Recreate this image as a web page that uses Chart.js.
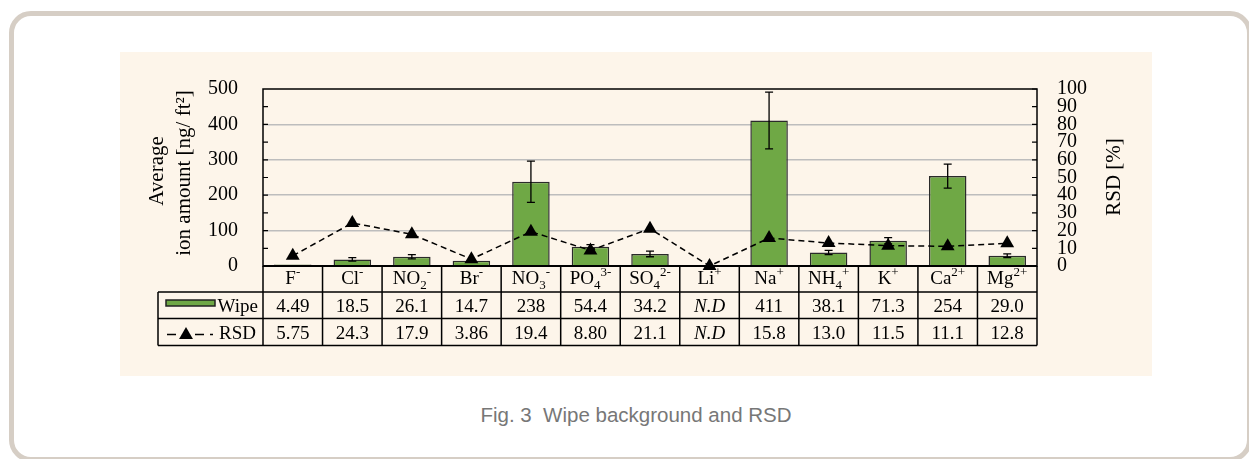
<!DOCTYPE html>
<html>
<head>
<meta charset="utf-8">
<title>Wipe background and RSD</title>
<script src="https://cdn.jsdelivr.net/npm/chart.js@4.4.1/dist/chart.umd.min.js"></script>
<style>
    body { margin: 0; background: #fff; width: 1249px; height: 459px; overflow: hidden; position: relative; }
    #frame {
        position: absolute; left: 9px; top: 11px; width: 1243px; height: 451px;
        box-sizing: border-box; border: 5px solid #d6cec5; border-radius: 22px;
    }
    #panel { position: absolute; left: 120px; top: 52px; width: 1032px; height: 324px; background: #fdf5ea; }
    #caption {
        position: absolute; left: 0; width: 1272px; top: 403px; text-align: center;
        font: 20.5px "Liberation Sans", Arial, sans-serif; color: #777;
    }
</style>
</head>
<body>
<div id="frame"></div>
<div id="panel"><canvas id="wipeChart" width="1032" height="324"></canvas></div>
<div id="caption">Fig. 3&nbsp;&nbsp;Wipe background and RSD</div>

<script>
// Categories (ions) - plain label plus pieces for the rich table label
const categories = ["F⁻", "Cl⁻", "NO₂⁻", "Br⁻", "NO₃⁻", "PO₄³⁻", "SO₄²⁻", "Li⁺", "Na⁺", "NH₄⁺", "K⁺", "Ca²⁺", "Mg²⁺"];
const labelBase = ["F", "Cl", "NO", "Br", "NO", "PO", "SO", "Li", "Na", "NH", "K", "Ca", "Mg"];
const labelSub = ["", "", "2", "", "3", "4", "4", "", "", "4", "", "", ""];
const labelSup = ["-", "-", "-", "-", "-", "3-", "2-", "+", "+", "+", "+", "2+", "2+"];

// Series (null = N.D)
const wipeValues = [4.49, 18.5, 26.1, 14.7, 238, 54.4, 34.2, null, 411, 38.1, 71.3, 254, 29.0];
const wipeErrors = [null, 5, 6, 3, 58, 6, 8, null, 80, 6, 9, 34, 5];
const rsdValues = [5.75, 24.3, 17.9, 3.86, 19.4, 8.80, 21.1, null, 15.8, 13.0, 11.5, 11.1, 12.8];

// Tick labels
const wipeTicks = [0, 100, 200, 300, 400, 500];
const rsdTicks = [0, 10, 20, 30, 40, 50, 60, 70, 80, 90, 100];

const GREEN = "#6fa845";
const SERIF = '"Liberation Serif", "Times New Roman", serif';

// Li+ was not detected; the original plots its RSD marker on zero
const rsdPlotted = rsdValues.map(v => v ?? 0);

function drawTriangle(ctx, x, y, r) {
    ctx.beginPath();
    ctx.moveTo(x, y - r);
    ctx.lineTo(x + r * 0.866, y + r * 0.5);
    ctx.lineTo(x - r * 0.866, y + r * 0.5);
    ctx.closePath();
    ctx.fill();
}

// Draws "NO" + sub "2" + sup "-" centred at x
function drawIonLabel(ctx, i, cx, baseline) {
    const big = "19px " + SERIF, small = "13px " + SERIF;
    ctx.font = big;
    const wBase = ctx.measureText(labelBase[i]).width;
    ctx.font = small;
    const wSub = labelSub[i] ? ctx.measureText(labelSub[i]).width : 0;
    const wSup = ctx.measureText(labelSup[i]).width;
    let x = cx - (wBase + wSub + wSup) / 2;
    ctx.textAlign = "left";
    ctx.textBaseline = "alphabetic";
    ctx.font = big;
    ctx.fillText(labelBase[i], x, baseline);
    x += wBase;
    ctx.font = small;
    if (labelSub[i]) {
        ctx.fillText(labelSub[i], x, baseline + 5);
        x += wSub;
    }
    ctx.fillText(labelSup[i], x, baseline - 8);
}

const wipeTablePlugin = {
    id: "wipeTable",
    // error bars go right after the bars, before the RSD line
    afterDatasetDraw(chart, args) {
        if (args.index !== 1) return;
        const ctx = chart.ctx, xs = chart.scales.x, ys = chart.scales.yWipe;
        ctx.save();
        ctx.strokeStyle = "#000";
        ctx.lineWidth = 1.3;
        wipeValues.forEach((v, i) => {
            const e = wipeErrors[i];
            if (v == null || !e) return;
            const px = xs.getPixelForValue(i);
            const top = ys.getPixelForValue(v + e);
            const bot = ys.getPixelForValue(Math.max(v - e, 0));
            ctx.beginPath();
            ctx.moveTo(px, top); ctx.lineTo(px, bot);
            ctx.moveTo(px - 4, top); ctx.lineTo(px + 4, top);
            ctx.moveTo(px - 4, bot); ctx.lineTo(px + 4, bot);
            ctx.stroke();
        });
        ctx.restore();
    },
    afterDraw(chart) {
        const ctx = chart.ctx;
        const { left, right, top, bottom } = chart.chartArea;
        const xs = chart.scales.x, yw = chart.scales.yWipe, yr = chart.scales.yRsd;
        ctx.save();
        ctx.strokeStyle = "#000";
        ctx.fillStyle = "#000";

        // plot frame and zero line
        ctx.lineWidth = 1.5;
        ctx.strokeRect(left, top, right - left, bottom - top);
        ctx.lineWidth = 2.2;
        ctx.beginPath(); ctx.moveTo(left, bottom); ctx.lineTo(right, bottom); ctx.stroke();

        // inside tick marks
        ctx.lineWidth = 1.2;
        ctx.beginPath();
        for (let v = 50; v < 500; v += 50) {
            const py = yw.getPixelForValue(v);
            ctx.moveTo(left, py); ctx.lineTo(left + 5, py);
        }
        rsdTicks.forEach(v => {
            const py = yr.getPixelForValue(v);
            ctx.moveTo(right, py); ctx.lineTo(right - 5, py);
        });
        ctx.stroke();

        // table under the plot
        const half = (xs.getPixelForValue(1) - xs.getPixelForValue(0)) / 2;
        const rows = [bottom, bottom + 26, bottom + 52.5, bottom + 79.5];
        const legendLeft = 38;
        ctx.lineWidth = 1.5;
        ctx.beginPath();
        ctx.moveTo(left, rows[0]); ctx.lineTo(right, rows[0]);
        for (let r = 1; r < rows.length; r++) {
            ctx.moveTo(legendLeft, rows[r]); ctx.lineTo(right, rows[r]);
        }
        ctx.moveTo(legendLeft, rows[1]); ctx.lineTo(legendLeft, rows[3]);
        for (let i = 0; i <= categories.length; i++) {
            const bx = i < categories.length ? xs.getPixelForValue(i) - half : right;
            ctx.moveTo(bx, rows[0]); ctx.lineTo(bx, rows[3]);
        }
        ctx.stroke();

        categories.forEach((c, i) => {
            const cx = xs.getPixelForValue(i);
            drawIonLabel(ctx, i, cx, rows[0] + 17.5);
            ctx.textAlign = "center";
            ctx.textBaseline = "alphabetic";
            const w = wipeValues[i], s = rsdValues[i];
            ctx.font = (w == null ? "italic " : "") + "19px " + SERIF;
            ctx.fillText(w == null ? "N.D" : w.toPrecision(3), cx, rows[1] + 19.7);
            ctx.font = (s == null ? "italic " : "") + "19px " + SERIF;
            ctx.fillText(s == null ? "N.D" : s.toPrecision(3), cx, rows[2] + 20.5);
        });

        // legend cells
        ctx.fillStyle = GREEN;
        ctx.fillRect(46, rows[1] + 8, 49, 6);
        ctx.strokeStyle = "#222";
        ctx.lineWidth = 1.5;
        ctx.strokeRect(46, rows[1] + 8, 49, 6);
        ctx.strokeStyle = "#000";
        const ly = rows[2] + 16;
        ctx.beginPath();
        ctx.moveTo(47, ly); ctx.lineTo(56, ly);
        ctx.moveTo(75, ly); ctx.lineTo(84, ly);
        ctx.moveTo(90, ly); ctx.lineTo(93, ly);
        ctx.stroke();
        ctx.fillStyle = "#000";
        drawTriangle(ctx, 66, ly + 0.5, 8);
        ctx.font = "19px " + SERIF;
        ctx.textAlign = "right";
        ctx.fillText("Wipe", 138, rows[1] + 19.7);
        ctx.fillText("RSD", 136, rows[2] + 20.5);

        // axis titles
        ctx.font = "21px " + SERIF;
        ctx.textAlign = "center";
        ctx.textBaseline = "middle";
        ctx.save();
        ctx.translate(37, 119); ctx.rotate(-Math.PI / 2);
        ctx.fillText("Average", 0, 0);
        ctx.restore();
        ctx.save();
        ctx.translate(64, 121); ctx.rotate(-Math.PI / 2);
        ctx.fillText("ion amount [ng/ ft²]", 0, 0);
        ctx.restore();
        ctx.save();
        ctx.translate(994, 125); ctx.rotate(-Math.PI / 2);
        ctx.fillText("RSD [%]", 0, 0);
        ctx.restore();

        ctx.restore();
    }
};

const tickFont = { family: SERIF, size: 20 };

new Chart(document.getElementById("wipeChart"), {
    type: "bar",
    data: {
        labels: categories,
        datasets: [
            {
                type: "line",
                label: "RSD",
                data: rsdPlotted,
                yAxisID: "yRsd",
                borderColor: "#000",
                borderWidth: 1.5,
                borderDash: [6, 4],
                pointStyle: "triangle",
                pointRadius: 8,
                pointBackgroundColor: "#000",
                pointBorderColor: "#000",
                pointBorderWidth: 0,
                tension: 0,
                clip: false,
                order: 0
            },
            {
                type: "bar",
                label: "Wipe",
                data: wipeValues,
                yAxisID: "yWipe",
                backgroundColor: GREEN,
                borderColor: "#2a2a2a",
                borderWidth: 1.5,
                barPercentage: 0.63,
                categoryPercentage: 1,
                order: 1
            }
        ]
    },
    options: {
        responsive: false,
        animation: false,
        devicePixelRatio: 1,
        layout: { padding: { top: 34, bottom: 110, left: 0, right: 0 } },
        plugins: {
            legend: { display: false },
            tooltip: { enabled: false }
        },
        scales: {
            x: { display: false, offset: true, grid: { display: false } },
            yWipe: {
                position: "left",
                min: 0,
                max: 500,
                afterBuildTicks: s => { s.ticks = wipeTicks.map(v => ({ value: v })); },
                afterFit: s => { s.width = 143; },
                ticks: { padding: 25, color: "#000", font: tickFont, autoSkip: false },
                grid: {
                    drawTicks: false,
                    lineWidth: 1.5,
                    color: c => (c.tick.value === 0 || c.tick.value === 500) ? "rgba(0,0,0,0)" : "#bdbdbd"
                },
                border: { display: false }
            },
            yRsd: {
                position: "right",
                min: 0,
                max: 100,
                afterBuildTicks: s => { s.ticks = rsdTicks.map(v => ({ value: v })); },
                afterFit: s => { s.width = 115; },
                ticks: { padding: 20, color: "#000", font: tickFont, autoSkip: false },
                grid: { display: false, drawTicks: false },
                border: { display: false }
            }
        }
    },
    plugins: [wipeTablePlugin]
});
</script>
</body>
</html>
